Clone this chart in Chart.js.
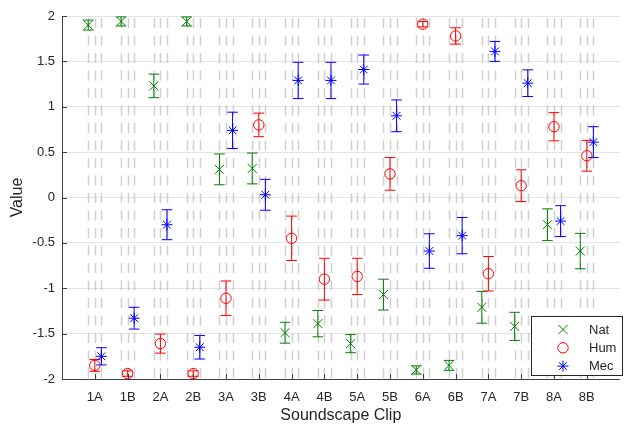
<!DOCTYPE html>
<html>
<head>
<meta charset="utf-8">
<script src="https://cdn.jsdelivr.net/npm/chart.js@4"></script>
<style>
  html, body { margin: 0; padding: 0; background: #fff; }
  #wrap { width: 627px; height: 426px; }
</style>
</head>
<body>
<div id="wrap"><canvas id="chart" width="627" height="426"></canvas></div>
<script>
const clips = ["1A","1B","2A","2B","3A","3B","4A","4B","5A","5B","6A","6B","7A","7B","8A","8B"];
const yTicks = [-2, -1.5, -1, -0.5, 0, 0.5, 1, 1.5, 2];

const natMean = [1.90, 1.94, 1.23, 1.94, 0.31, 0.32, -1.49, -1.39, -1.61, -1.07, -1.90, -1.85, -1.21, -1.42, -0.30, -0.59];
const natErr  = [0.055, 0.05, 0.13, 0.05, 0.17, 0.17, 0.115, 0.145, 0.10, 0.17, 0.045, 0.055, 0.175, 0.155, 0.175, 0.195];
const humMean = [-1.85, -1.94, -1.61, -1.94, -1.11, 0.80, -0.45, -0.90, -0.87, 0.26, 1.91, 1.78, -0.84, 0.13, 0.78, 0.46];
const humErr  = [0.065, 0.03, 0.105, 0.03, 0.19, 0.13, 0.245, 0.23, 0.20, 0.18, 0.03, 0.09, 0.19, 0.175, 0.155, 0.17];
const mecMean = [-1.75, -1.33, -0.30, -1.65, 0.74, 0.03, 1.29, 1.29, 1.41, 0.90, -0.59, -0.42, 1.61, 1.26, -0.26, 0.61];
const mecErr  = [0.095, 0.12, 0.165, 0.13, 0.20, 0.17, 0.20, 0.20, 0.16, 0.175, 0.19, 0.20, 0.11, 0.147, 0.17, 0.17];

const groups = [
  { label: "Nat", mean: natMean, err: natErr, color: "#008000", style: "crossRot", radius: 6.4, shift: -0.2 },
  { label: "Hum", mean: humMean, err: humErr, color: "#ff0000", style: "circle", radius: 5.2, shift: 0 },
  { label: "Mec", mean: mecMean, err: mecErr, color: "#0000ff", style: "star", radius: 5.5, shift: 0.2 }
];

const textColor = "#262626";
const font = "'Liberation Sans', Arial, sans-serif";

// dashed verticals, error bars, inward ticks, legend box
const extras = {
  id: "extras",
  beforeDatasetsDraw(chart) {
    const ctx = chart.ctx;
    const xs = chart.scales.x, ys = chart.scales.y;
    const area = chart.chartArea;
    ctx.save();
    ctx.strokeStyle = "rgba(170,170,170,0.55)";
    ctx.lineWidth = 1.5;
    ctx.setLineDash([10, 7.5]);
    ctx.lineDashOffset = -2;
    clips.forEach((c, i) => {
      groups.forEach(g => {
        const px = Math.round(xs.getPixelForValue(i + 1 + g.shift)) + 0.5;
        ctx.beginPath();
        ctx.moveTo(px, area.top);
        ctx.lineTo(px, area.bottom);
        ctx.stroke();
      });
    });
    ctx.setLineDash([]);
    // error bars
    ctx.lineWidth = 1;
    groups.forEach(g => {
      ctx.strokeStyle = g.color;
      g.mean.forEach((m, i) => {
        const px = xs.getPixelForValue(i + 1 + g.shift);
        const y1 = ys.getPixelForValue(m + g.err[i]);
        const y2 = ys.getPixelForValue(m - g.err[i]);
        ctx.beginPath();
        ctx.moveTo(px, y1); ctx.lineTo(px, y2);
        ctx.moveTo(px - 5.3, y1); ctx.lineTo(px + 5.3, y1);
        ctx.moveTo(px - 5.3, y2); ctx.lineTo(px + 5.3, y2);
        ctx.stroke();
      });
    });
    // inward ticks
    ctx.strokeStyle = "#404040";
    ctx.beginPath();
    yTicks.forEach(v => {
      const py = Math.round(ys.getPixelForValue(v)) + 0.5;
      ctx.moveTo(area.left, py); ctx.lineTo(area.left + 5, py);
    });
    clips.forEach((c, i) => {
      const px = Math.round(xs.getPixelForValue(i + 1)) + 0.5;
      ctx.moveTo(px, area.bottom); ctx.lineTo(px, area.bottom - 5);
    });
    ctx.stroke();
    ctx.restore();
  },
  afterDraw(chart) {
    const ctx = chart.ctx;
    ctx.save();
    const bx = 531.5, by = 316.5, bw = 91, bh = 59;
    ctx.fillStyle = "#fff";
    ctx.fillRect(bx, by, bw, bh);
    ctx.strokeStyle = textColor;
    ctx.lineWidth = 1;
    ctx.strokeRect(bx, by, bw, bh);
    ctx.font = "13px " + font;
    ctx.textBaseline = "middle";
    ctx.textAlign = "left";
    groups.forEach((g, k) => {
      const y = 329.5 + k * 18.3;
      ctx.strokeStyle = g.color;
      ctx.fillStyle = "rgba(0,0,0,0)";
      ctx.lineWidth = 1;
      Chart.helpers.drawPoint(ctx, { pointStyle: g.style, radius: g.radius, borderWidth: 1, rotation: 0 }, 563, y);
      ctx.fillStyle = textColor;
      ctx.fillText(g.label, 589, y + 0.5);
    });
    ctx.restore();
  }
};

new Chart(document.getElementById("chart"), {
  type: "scatter",
  data: {
    datasets: groups.map(g => ({
      label: g.label,
      data: g.mean.map((m, i) => ({ x: i + 1 + g.shift, y: m })),
      pointStyle: g.style,
      pointRadius: g.radius,
      pointBorderWidth: 1,
      pointBorderColor: g.color,
      pointBackgroundColor: "rgba(0,0,0,0)",
      borderColor: g.color,
      clip: false
    }))
  },
  options: {
    responsive: false,
    animation: false,
    layout: { padding: { top: 16, right: 1, left: 0, bottom: 0 } },
    plugins: { legend: { display: false }, tooltip: { enabled: false } },
    scales: {
      x: {
        type: "linear",
        min: 0, max: 17,
        afterFit: s => { s.height = 47; },
        afterBuildTicks: s => { s.ticks = clips.map((c, i) => ({ value: i + 1 })); },
        grid: { display: false, drawTicks: false },
        border: { display: true, color: "#404040", width: 1 },
        ticks: {
          color: textColor, font: { family: font, size: 13 }, padding: 11,
          maxRotation: 0, autoSkip: false,
          callback: v => clips[v - 1] || ""
        },
        title: { display: true, text: "Soundscape Clip", color: textColor, font: { family: font, size: 16 }, padding: { top: 0, bottom: 0.8 } }
      },
      y: {
        min: -2, max: 2,
        afterFit: s => { s.width = 62; },
        afterBuildTicks: s => { s.ticks = yTicks.map(v => ({ value: v })); },
        grid: { color: "#e3e3e3", drawTicks: false },
        border: { display: true, color: "#404040", width: 1 },
        ticks: { color: textColor, font: { family: font, size: 13 }, padding: 7, callback: v => String(v) },
        title: { display: true, text: "Value", color: textColor, font: { family: font, size: 16 }, padding: { top: 8.4, bottom: 0 } }
      }
    }
  },
  plugins: [extras]
});
</script>
</body>
</html>
